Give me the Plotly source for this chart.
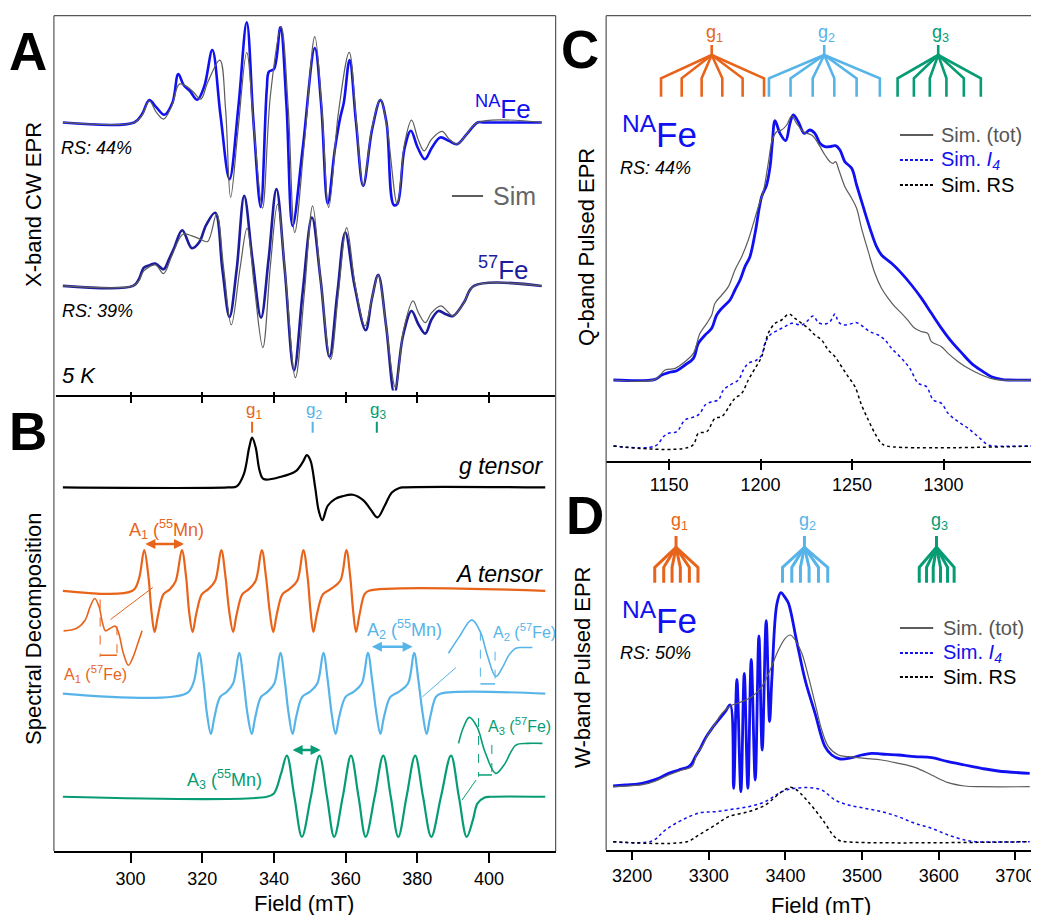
import plotly.graph_objects as go

W, H = 1039, 915          # browser window
OFF = 8                   # default page margin around the plot div
FW, FH = W - OFF, H - OFF # figure size
FONT = "Liberation Sans, Arial, Helvetica, sans-serif"

BLUE = "#1010F0"
NAVY = "#1C1C9E"
GREY = "#5C5C5C"
ORANGE = "#E8641A"
SKY = "#56B4E9"
GREEN = "#079C74"

# ---------------- Panel A : X-band CW EPR (field in mT, intensity a.u.) ----------------
A_NA_EXP_FIELD = [281.1, 301.0, 303.2, 305.2, 307.2, 309.4, 311.7, 313.3, 314.8, 316.5, 318.6, 320.6, 322.8, 325.1,
                  327.6, 330.1, 332.4, 334.3, 336.3, 338.0, 338.6, 340.0, 341.8, 343.5, 345.2, 348.0, 351.4, 353.2,
                  355.0, 357.0, 358.5, 359.5, 361.1, 362.9, 364.9, 367.4, 369.7, 371.4, 373.4, 374.4, 376.4, 378.2,
                  380.1, 382.1, 384.1, 386.4, 388.8, 391.1, 393.8, 396.8, 398.8, 414.7]
A_NA_EXP = [0, 0, 25, 67, 45, 23, 60, 145, 112, 95, 68, 110, 217, 20, -170, 50, 300, 0, -253, 100, 152, 160, 285, 50,
            -310, -80, 223, 50, -243, -80, 15, 60, 187, 0, -190, -20, 67, 0, -247, -245, -80, -25, -75, -110, -75, -45,
            -55, -65, -35, 0, 0, 0]
A_NA_SIM_FIELD = [281.1, 301.0, 303.2, 305.2, 307.2, 309.2, 311.5, 313.6, 315.8, 317.6, 319.6, 321.5, 324.9, 326.5,
                  327.9, 330.0, 332.4, 334.5, 336.8, 339.0, 342.0, 344.0, 345.8, 348.5, 351.4, 353.3, 355.3, 358.0,
                  361.0, 363.0, 364.9, 367.3, 369.7, 371.5, 374.4, 376.5, 378.4, 380.2, 381.9, 384.0, 386.9, 388.9,
                  391.1, 393.8, 396.8, 414.7]
A_NA_SIM = [0, 0, 22, 65, 30, 10, 50, 115, 107, 90, 70, 120, 187, 40, -225, -20, 210, -30, -257, 80, 287, 40, -330,
            -60, 257, 50, -255, 30, 210, 0, -190, -20, 70, -10, -245, -60, 7, -50, -85, -50, -27, -50, -65, -35, 0, 0]
A_FE_EXP_FIELD = [281.1, 300.7, 302.3, 303.7, 305.3, 306.9, 309.2, 310.7, 312.2, 314.4, 317.1, 319.1, 321.1, 323.6,
                  325.6, 327.6, 329.6, 331.7, 334.0, 336.4, 338.5, 340.7, 343.0, 345.6, 348.0, 350.6, 353.0, 355.5,
                  357.7, 359.9, 362.5, 365.6, 367.3, 369.1, 371.3, 373.6, 376.0, 378.4, 380.3, 382.2, 384.0, 385.9,
                  388.0, 390.0, 393.0, 395.8, 414.7]
A_FE_EXP = [0, 0, 20, 55, 62, 67, 50, 80, 115, 167, 113, 130, 183, 219, 50, -93, 50, 270, 80, -95, 80, 290, 50, -253,
            -20, 205, 20, -213, -20, 160, 0, -133, -40, 33, -120, -323, -150, -75, -115, -143, -100, -75, -85, -90, -50,
            0, 0]
A_FE_SIM_FIELD = [281.1, 300.7, 302.3, 303.7, 306.9, 309.2, 311.5, 314.6, 317.1, 319.5, 321.5, 324.0, 326.0, 328.1,
                  330.5, 332.5, 334.5, 336.9, 339.0, 341.0, 343.3, 346.0, 348.5, 350.8, 353.0, 355.8, 358.0, 360.3,
                  362.7, 365.4, 367.3, 369.1, 371.3, 373.9, 376.2, 378.8, 380.3, 382.2, 384.0, 386.6, 388.3, 390.0,
                  393.0, 395.8, 414.7]
A_FE_SIM = [0, 0, 15, 45, 63, 37, 90, 155, 150, 140, 133, 215, 50, -117, 50, 173, 0, -185, 60, 245, 20, -275, -20, 240,
            20, -220, -20, 175, 0, -120, -40, 33, -120, -305, -130, -45, -80, -110, -80, -60, -75, -90, -50, 0, 0]

# ---------------- Panel B : spectral decomposition ----------------
B_G_FIELD = [281.1, 327.1, 329.6, 331.6, 333.1, 333.9, 334.9, 336.0, 337.1, 342.0, 346.0, 348.0, 349.2, 350.2, 351.5,
             352.5, 353.5, 355.0, 357.0, 359.0, 362.0, 364.9, 366.9, 368.9, 370.9, 372.9, 375.0, 375.9, 415.7]
B_G = [0, 0, 3, 40, 120, 149, 120, 50, 25, 32, 48, 75, 97, 80, 0, -70, -98, -55, -35, -27, -22, -38, -65, -90, -55,
       -15, -2, 0, 0]
B_A1_FIELD = [281.1, 300.5, 302.3, 303.8, 305.0, 305.8, 306.7, 307.7, 309.2, 311.0, 312.6, 314.3, 315.5, 316.3, 317.3,
              318.3, 319.9, 321.7, 323.6, 325.3, 326.5, 327.5, 328.6, 329.6, 331.2, 333.0, 334.9, 336.6, 337.8, 338.8,
              339.8, 340.8, 342.4, 344.3, 346.5, 348.2, 349.4, 350.2, 351.0, 352.0, 353.7, 355.8, 358.5, 360.2, 361.3,
              362.1, 362.9, 363.9, 365.3, 366.5, 415.7]
B_A1 = [0, 0, 35, 122, 40, -60, -123, -70, -10, 5, 30, 122, 40, -60, -123, -70, -10, 5, 30, 122, 40, -60, -123, -70,
        -10, 5, 30, 122, 40, -60, -123, -70, -10, 5, 30, 122, 40, -60, -123, -70, -10, 5, 30, 122, 40, -60, -123, -70,
        -10, 0, 0]
B_A2_FIELD = [281.1, 315.5, 317.6, 319.1, 320.3, 321.3, 322.4, 323.4, 325.0, 326.8, 328.6, 330.3, 331.5, 332.6, 333.8,
              334.8, 336.4, 338.2, 340.1, 341.8, 343.0, 344.1, 345.2, 346.2, 347.9, 350.0, 352.1, 353.8, 355.0, 356.1,
              357.2, 358.2, 360.0, 362.2, 364.5, 366.2, 367.4, 368.6, 369.7, 370.7, 372.5, 374.8, 377.4, 379.1, 380.3,
              381.5, 382.6, 383.6, 385.2, 386.6, 415.7]
B_A2 = [0, 0, 35, 122, 40, -60, -121, -70, -10, 5, 30, 122, 40, -60, -121, -70, -10, 5, 30, 122, 40, -60, -121, -70,
        -10, 5, 30, 122, 40, -60, -121, -70, -10, 5, 30, 122, 40, -60, -121, -70, -10, 5, 30, 122, 40, -60, -121, -70,
        -10, 0, 0]
B_A3_FIELD = [281.1, 338.0, 340.0, 342.0, 343.6, 345.7, 347.8, 350.3, 352.7, 354.8, 356.8, 359.2, 361.5, 363.6, 365.6,
              368.1, 370.5, 372.6, 374.7, 377.0, 379.4, 381.6, 383.9, 386.6, 389.4, 391.6, 393.8, 395.5, 396.8, 398.8,
              400.5, 415.7]
B_A3 = [0, 0, 10, 70, 123, 0, -120, 0, 123, 0, -120, 0, 123, 0, -120, 0, 123, 0, -120, 0, 123, 0, -120, 0, 123, 0,
        -120, -70, -20, -2, 0, 0]
# zoomed insets of the 57Fe splitting
B_A1_INSET_FIELD = [281.3, 284.8, 287.3, 288.7, 290.0, 291.2, 292.2, 293.0, 294.2, 295.7, 296.7, 298.0, 299.4, 300.7,
                    302.0, 303.2]
B_A1_INSET = [-120, -113, -88, -48, -23, -48, -98, -120, -113, -106, -128, -188, -223, -198, -158, -120]
B_A2_INSET_FIELD = [388.7, 391.7, 395.2, 397.6, 399.5, 401.9, 403.7, 405.6, 407.5, 409.8, 412.1]
B_A2_INSET = [121, 170, 221, 185, 116, 51, 77, 116, 136, 138, 138]
B_A3_INSET_FIELD = [391.5, 392.8, 394.5, 396.7, 398.9, 401.9, 404.2, 407.5, 410.7, 414.9]
B_A3_INSET = [160, 206, 238, 209, 134, 70, 95, 155, 160, 160]
B_G_POS = [333.9, 350.8, 368.7]
B_MN_SPLIT = [(303.7, 314.9), (366.9, 378.7), (344.8, 353.0)]
B_FE_SPLIT = [(291.5, 296.2), (397.6, 401.7), (397.1, 400.8)]

# ---------------- Panel C : Q-band pulsed EPR ----------------
C_EXP_FIELD = [1119.6, 1142.4, 1146.0, 1149.6, 1154.2, 1158.7, 1163.3, 1166.0, 1169.7, 1173.3, 1176.0, 1178.8, 1183.3,
               1186.0, 1188.8, 1191.5, 1194.2, 1197.0, 1200.6, 1203.3, 1205.2, 1206.4, 1207.9, 1210.6, 1213.7, 1216.1,
               1217.9, 1220.6, 1223.9, 1227.0, 1229.7, 1232.5, 1235.2, 1237.9, 1241.0, 1243.4, 1246.1, 1249.8, 1252.5,
               1256.1, 1259.8, 1263.4, 1266.1, 1271.6, 1277.1, 1282.5, 1288.0, 1293.4, 1298.9, 1304.4, 1309.8, 1315.3,
               1320.8, 1326.2, 1331.7, 1335.3, 1349.0]
C_EXP = [0, 2, 15, 22, 28, 45, 65, 110, 135, 155, 195, 215, 240, 270, 300, 340, 370, 440, 550, 585, 640, 710, 778, 740,
         718, 770, 795, 775, 740, 750, 740, 710, 700, 700, 703, 690, 655, 635, 585, 520, 455, 400, 375, 350, 320, 285,
         245, 200, 155, 115, 82, 50, 28, 10, 2, 0, 0]
C_SIM_FIELD = [1119.6, 1142.4, 1147.8, 1153.3, 1158.7, 1163.3, 1166.9, 1170.6, 1173.3, 1175.1, 1178.8, 1182.4, 1186.0,
               1189.7, 1193.3, 1196.1, 1198.8, 1201.5, 1204.2, 1206.4, 1208.8, 1211.5, 1214.3, 1217.0, 1219.7, 1223.4,
               1227.9, 1229.7, 1232.5, 1235.2, 1237.9, 1239.7, 1241.0, 1242.8, 1246.1, 1249.8, 1252.5, 1255.2, 1258.9,
               1262.5, 1266.1, 1269.8, 1273.4, 1277.1, 1280.7, 1284.3, 1288.0, 1291.3, 1293.4, 1298.9, 1302.5, 1308.0,
               1313.5, 1320.8, 1328.0, 1349.0]
C_SIM = [0, 2, 30, 35, 55, 80, 140, 170, 195, 230, 255, 280, 330, 370, 420, 470, 520, 565, 650, 720, 745, 750, 765, 792,
         770, 745, 735, 725, 700, 675, 655, 650, 655, 630, 580, 545, 515, 455, 385, 320, 275, 245, 220, 200, 178, 155,
         145, 140, 115, 100, 80, 55, 35, 15, 2, 0]
C_I4_FIELD = [1119.6, 1142.4, 1146.9, 1149.6, 1154.2, 1158.7, 1164.2, 1166.9, 1169.7, 1173.3, 1176.9, 1179.7, 1183.3,
              1187.9, 1190.6, 1193.3, 1197.9, 1200.6, 1202.4, 1205.2, 1209.7, 1213.3, 1217.0, 1222.5, 1225.2, 1228.8,
              1231.6, 1235.2, 1237.9, 1240.7, 1242.5, 1245.2, 1248.8, 1252.5, 1256.1, 1259.8, 1264.3, 1268.0, 1271.6,
              1277.1, 1281.6, 1286.2, 1290.7, 1294.4, 1298.9, 1302.5, 1308.0, 1313.5, 1318.9, 1324.4, 1328.0, 1349.0]
C_I4 = [0, 0, 28, 38, 43, 78, 88, 98, 123, 133, 138, 168, 183, 198, 228, 248, 258, 273, 308, 333, 348, 358, 368, 363,
        373, 390, 370, 366, 373, 396, 373, 363, 366, 370, 358, 343, 333, 318, 293, 263, 233, 188, 178, 138, 128, 98, 73,
        53, 28, 3, 0, 0]
C_RS_FIELD = [1119.6, 1162.4, 1166.0, 1170.6, 1175.1, 1178.8, 1183.3, 1186.0, 1189.7, 1193.3, 1197.0, 1200.6, 1204.2,
              1207.9, 1211.5, 1215.5, 1218.8, 1222.5, 1226.1, 1229.7, 1233.4, 1237.0, 1240.7, 1244.3, 1247.9, 1251.6,
              1255.2, 1258.9, 1262.5, 1266.1, 1268.9, 1349.0]
C_RS = [0, 0, 38, 43, 83, 88, 123, 143, 158, 198, 233, 268, 338, 368, 378, 396, 383, 368, 353, 333, 318, 288, 268, 238,
        208, 178, 123, 78, 38, 8, 0, 0]
C_STICK_CENTER = [1173.3, 1234.8, 1297.1]
C_STICK_LEGS = [[1145.6, 1156.9, 1167.8, 1179.1, 1190.2, 1201.9],
                [1204.6, 1216.4, 1228.5, 1240.3, 1252.5, 1265.2],
                [1274.9, 1283.8, 1292.5, 1301.6, 1311.1, 1320.4]]

# ---------------- Panel D : W-band pulsed EPR ----------------
D_EXP_FIELD = [3175.3, 3191.3, 3208.7, 3221.7, 3234.7, 3247.7, 3260.8, 3273.8, 3278.1, 3282.5, 3289.0, 3295.5, 3304.2,
               3312.8, 3321.5, 3328.0, 3332.4, 3336.7, 3341.9, 3346.3, 3351.0, 3355.4, 3360.6, 3365.4, 3369.7, 3374.9,
               3379.3, 3382.5, 3388.8, 3394.0, 3399.7, 3404.0, 3414.8, 3425.7, 3438.7, 3451.7, 3460.4, 3471.3, 3486.5,
               3499.5, 3512.5, 3525.5, 3547.2, 3568.9, 3590.6, 3612.3, 3634.0, 3655.7, 3677.4, 3718.7]
D_EXP = [0, 3, 6, 13, 23, 38, 48, 58, 68, 88, 113, 143, 173, 198, 223, 243, -7, 320, -17, 338, -7, 380, 18, 450, 108,
         496, 193, 330, 545, 580, 565, 548, 433, 318, 218, 118, 93, 81, 85, 93, 98, 96, 93, 88, 85, 73, 63, 53, 45, 38]
D_SIM_FIELD = [3175.3, 3221.7, 3247.7, 3265.1, 3278.1, 3284.6, 3291.1, 3299.8, 3308.5, 3317.2, 3328.0, 3343.2, 3356.2,
               3369.2, 3380.0, 3390.9, 3399.7, 3406.2, 3412.7, 3421.4, 3430.0, 3438.7, 3447.4, 3456.1, 3469.1, 3482.1,
               3503.8, 3525.5, 3547.2, 3568.9, 3590.6, 3612.3, 3634.0, 3655.7, 3718.7]
D_SIM = [-2, 8, 33, 48, 58, 98, 118, 158, 188, 218, 240, 253, 268, 298, 348, 408, 443, 453, 438, 398, 328, 248, 168,
         118, 93, 88, 83, 78, 68, 56, 33, 10, 0, -2, -2]
D_I4_FIELD = [3175.3, 3226.0, 3243.4, 3265.1, 3289.0, 3308.5, 3330.2, 3351.9, 3373.6, 3395.3, 3412.7, 3430.0, 3447.4,
              3464.8, 3482.1, 3503.8, 3525.5, 3547.2, 3568.9, 3590.6, 3612.3, 3634.0, 3647.0, 3718.7]
D_I4 = [0, 2, 35, 65, 87, 90, 97, 105, 120, 150, 160, 162, 155, 125, 110, 100, 90, 75, 55, 40, 20, 5, 0, 0]
D_RS_FIELD = [3175.3, 3271.6, 3286.8, 3308.5, 3325.9, 3351.9, 3373.6, 3395.3, 3406.2, 3414.8, 3425.7, 3438.7, 3451.7,
              3460.4, 3469.1, 3477.8, 3718.7]
D_RS = [0, 0, 20, 50, 75, 90, 110, 150, 163, 155, 130, 95, 55, 25, 5, 0, 0]
D_STICK_CENTER = [3257.3, 3424.8, 3597.1]
D_STICK_LEGS = [[3229.5, 3241.2, 3252.1, 3262.9, 3274.7, 3285.9],
                [3396.2, 3408.3, 3419.6, 3430.9, 3443.1, 3455.2],
                [3574.6, 3584.1, 3592.8, 3602.3, 3611.5, 3620.1]]

G_COLORS = [ORANGE, SKY, GREEN]
G_NAMES = ["g<sub>1</sub>", "g<sub>2</sub>", "g<sub>3</sub>"]


def PX(x):
    return (x - OFF) / FW


def PY(y):
    return 1 - (y - OFF) / FH


def shift(vals, base):
    return [None if v is None else v - base for v in vals]


fig = go.Figure()


def line(xs, ys, xa, ya, color, width, dash=None, shape="spline"):
    fig.add_trace(go.Scatter(x=xs, y=ys, xaxis=xa, yaxis=ya, mode="lines",
                             line=dict(color=color, width=width, dash=dash, shape=shape, smoothing=1.0),
                             hoverinfo="skip", showlegend=False))


# ---- Panel A traces (baselines in axis units)
A_NA_BASE, A_FE_BASE = 365, 855
line(A_NA_EXP_FIELD, shift(A_NA_EXP, A_NA_BASE), "x2", "y2", BLUE, 2.6)
line(A_NA_SIM_FIELD, shift(A_NA_SIM, A_NA_BASE), "x2", "y2", GREY, 1.2)
line(A_FE_EXP_FIELD, shift(A_FE_EXP, A_FE_BASE), "x2", "y2", NAVY, 2.6)
line(A_FE_SIM_FIELD, shift(A_FE_SIM, A_FE_BASE), "x2", "y2", GREY, 1.2)

# ---- Panel B traces
B_G_BASE, B_A1_BASE, B_A2_BASE, B_A3_BASE = 292, 602, 910, 1219.3
line(B_G_FIELD, shift(B_G, B_G_BASE), "x", "y", "black", 2.2)
line(B_A1_FIELD, shift(B_A1, B_A1_BASE), "x", "y", ORANGE, 2.2)
line(B_A2_FIELD, shift(B_A2, B_A2_BASE), "x", "y", SKY, 2.2)
line(B_A3_FIELD, shift(B_A3, B_A3_BASE), "x", "y", GREEN, 2.2)
line(B_A1_INSET_FIELD, shift(B_A1_INSET, B_A1_BASE), "x", "y", ORANGE, 1.6)
line(B_A2_INSET_FIELD, shift(B_A2_INSET, B_A2_BASE), "x", "y", SKY, 1.6)
line(B_A3_INSET_FIELD, shift(B_A3_INSET, B_A3_BASE), "x", "y", GREEN, 1.6)

# connectors from insets to spectra
line([294.4, 306.2], [-688, -592], "x", "y", ORANGE, 1, shape="linear")
line([381.4, 390.8], [-920, -832], "x", "y", SKY, 1, shape="linear")
line([392.5, 396.4], [-1229, -1169], "x", "y", GREEN, 1, shape="linear")

# 57Fe splitting markers (dashed verticals + bar)
FE_MARK_Y = [((628, 800), (708, 800), 795), ((724.5, 884.3), (784.5, 884.3), 881),
             ((983.2, 1159.2), (1064.1, 1159.2), 1154)]
for (x1, x2), (l1, r1, bar), c in zip(B_FE_SPLIT, FE_MARK_Y, G_COLORS):
    line([x1, x1, None, x2, x2], [-l1[0], -l1[1], None, -r1[0], -r1[1]], "x", "y", c, 1, dash="dash", shape="linear")
    line([x1, x2], [-bar, -bar], "x", "y", c, 1.5, shape="linear")

# g position ticks
for gx, c in zip(B_G_POS, G_COLORS):
    line([gx, gx], [-95, -128], "x", "y", c, 2, shape="linear")

# ---- Panel C traces
C_EXP_BASE, C_SIM_BASE = 1140, 1338
line(C_I4_FIELD, shift(C_I4, C_SIM_BASE), "x3", "y3", BLUE, 1.5, dash="dot")
line(C_RS_FIELD, shift(C_RS, C_SIM_BASE), "x3", "y3", "black", 1.5, dash="dot")
line(C_EXP_FIELD, shift(C_EXP, C_EXP_BASE), "x3", "y3", BLUE, 2.8)
line(C_SIM_FIELD, shift(C_SIM, C_EXP_BASE), "x3", "y3", GREY, 1.2)

# ---- Panel D traces
D_EXP_BASE, D_SIM_BASE = 978, 1145
line(D_I4_FIELD, shift(D_I4, D_SIM_BASE), "x4", "y4", BLUE, 1.5, dash="dot")
line(D_RS_FIELD, shift(D_RS, D_SIM_BASE), "x4", "y4", "black", 1.5, dash="dot")
line(D_EXP_FIELD, shift(D_EXP, D_EXP_BASE), "x4", "y4", BLUE, 2.8)
line(D_SIM_FIELD, shift(D_SIM, D_EXP_BASE), "x4", "y4", GREY, 1.2)


# ---- stick diagrams
def sticks(centers, legs, xa, ya, levels, width):
    top, join, legtop, legbot = levels
    for s, ls, c in zip(centers, legs, G_COLORS):
        xs, ys = [s, s, None], [-top, -join, None]
        for l in ls:
            xs += [s, l, l, None]
            ys += [-join, -legtop, -legbot, None]
        line(xs, ys, xa, ya, c, width, shape="linear")


sticks(C_STICK_CENTER, C_STICK_LEGS, "x3", "y3", (135, 165, 235, 290), 2.6)
sticks(D_STICK_CENTER, D_STICK_LEGS, "x4", "y4", (228, 262, 322, 368), 3.0)

# ---------------- annotations ----------------
ann = []


def ptext(text, x, y, size, color="black", xanchor="center", angle=0):
    ann.append(dict(text=text, x=PX(x), y=PY(y), xref="paper", yref="paper", showarrow=False,
                    xanchor=xanchor, yanchor="middle", textangle=angle,
                    font=dict(family=FONT, size=size, color=color)))


def dtext(text, x, y, size, color="black", xanchor="center", xr="x", yr="y"):
    ann.append(dict(text=text, x=x, y=y, xref=xr, yref=yr, showarrow=False,
                    xanchor=xanchor, yanchor="middle",
                    font=dict(family=FONT, size=size, color=color)))


def darrow(x1, x2, y, color, width, size):
    ann.append(dict(x=x2, y=y, ax=x1, ay=y, xref="x", yref="y", axref="x", ayref="y", text="",
                    showarrow=True, arrowhead=2, arrowside="end+start", arrowsize=size,
                    arrowwidth=width, arrowcolor=color))


# panel letters
ptext("<b>A</b>", 28.5, 51, 53)
ptext("<b>B</b>", 28.5, 431, 53)
ptext("<b>C</b>", 581, 49, 53)
ptext("<b>D</b>", 586, 516, 53)

# Panel A texts
ptext("<sup>NA</sup>Fe", 534, 107, 26, BLUE, "right")
ptext("<sup>57</sup>Fe", 532, 268, 26, NAVY, "right")
ptext("Sim", 492, 196, 25, "#666666", "left")
ptext("<i>RS: 44%</i>", 59, 148, 18, "black", "left")
ptext("<i>RS: 39%</i>", 60, 311, 18, "black", "left")
ptext("<i>5 K</i>", 60, 376, 22, "black", "left")
ptext("X-band CW EPR", 33, 204, 22, "black", "center", -90)

# Panel B texts
for gx, c, g in zip(B_G_POS, G_COLORS, G_NAMES):
    dtext(g, gx + 0.4, -62, 17, c)
dtext("<i>g tensor</i>", 415.7, -228, 23, "black", "right")
dtext("<i>A tensor</i>", 415.7, -553, 23, "black", "right")
dtext("A<sub>1</sub> (<sup>55</sup>Mn)", 309.9, -418, 18, ORANGE)
dtext("A<sub>1</sub> (<sup>57</sup>Fe)", 290.2, -850, 16, ORANGE)
dtext("A<sub>2</sub> (<sup>55</sup>Mn)", 376.4, -718, 18, SKY)
dtext("A<sub>2</sub> (<sup>57</sup>Fe)", 400.6, -725, 16, SKY, "left")
dtext("A<sub>3</sub> (<sup>55</sup>Mn)", 326.1, -1167, 18, GREEN)
dtext("A<sub>3</sub> (<sup>57</sup>Fe)", 399.3, -1007, 16, GREEN, "left")
for (x1, x2), yy, c in zip(B_MN_SPLIT, [-462, -770, -1079], G_COLORS):
    darrow(x1, x2, yy, c, 2.5, 0.8)
ptext("Spectral Decomposition", 33, 629, 22, "black", "center", -90)
ptext("Field (mT)", 305, 903, 22)

# Panel C texts
for s, c, g in zip(C_STICK_CENTER, G_COLORS, G_NAMES):
    dtext(g, s + 1.3, -100, 18, c, xr="x3", yr="y3")
ptext("<sup>NA</sup>Fe", 621, 132, 35, BLUE, "left")
ptext("<i>RS: 44%</i>", 619, 168, 18, "black", "left")
ptext("Q-band Pulsed EPR", 587, 247, 22, "black", "center", -90)
ptext("Sim. (tot)", 941, 135, 20, "#555555", "left")
ptext("Sim. <i>I</i><sub><i>4</i></sub>", 941, 160, 20, BLUE, "left")
ptext("Sim. RS", 941, 185, 20, "black", "left")

# Panel D texts
for s, c, g in zip(D_STICK_CENTER, G_COLORS, G_NAMES):
    dtext(g, s + 4, -185, 18, c, xr="x4", yr="y4")
ptext("<sup>NA</sup>Fe", 621, 618, 35, BLUE, "left")
ptext("<i>RS: 50%</i>", 619, 653, 18, "black", "left")
ptext("W-band Pulsed EPR", 583, 667, 22, "black", "center", -90)
ptext("Sim. (tot)", 943, 628, 20, "#555555", "left")
ptext("Sim. <i>I</i><sub><i>4</i></sub>", 943, 653, 20, BLUE, "left")
ptext("Sim. RS", 943, 677, 20, "black", "left")
ptext("Field (mT)", 823, 905, 22)

# ---------------- shapes: frames and legend keys ----------------
shapes = []


def pline(x0, y0, x1, y1, color, width, dash=None):
    shapes.append(dict(type="line", xref="paper", yref="paper", x0=PX(x0), y0=PY(y0), x1=PX(x1), y1=PY(y1),
                       line=dict(color=color, width=width, dash=dash)))


FRAME = "#555555"
pline(54, 15.7, 556.7, 15.7, FRAME, 1.2)
pline(54, 15.7, 54, 851, FRAME, 1.2)
pline(556.7, 15.7, 556.7, 851, FRAME, 1.2)
pline(607.3, 15.7, 1039, 15.7, FRAME, 1.2)
pline(607.3, 15.7, 607.3, 850, FRAME, 1.2)

pline(56, 396, 556, 396, "black", 2)
pline(452.8, 196, 484, 196, GREY, 2)
for yy, c, d in [(135, GREY, None), (160, BLUE, "3px,2px"), (185, "black", "3px,2px")]:
    pline(901.7, yy, 935, yy, c, 2, d)
for yy, c, d in [(628, GREY, None), (653, BLUE, "3px,2px"), (677, "black", "3px,2px")]:
    pline(901.7, yy, 935, yy, c, 2, d)

common = dict(showgrid=False, zeroline=False)
fig.update_layout(
    width=FW, height=FH, margin=dict(l=0, r=0, t=0, b=0),
    paper_bgcolor="white", plot_bgcolor="rgba(0,0,0,0)",
    font=dict(family=FONT, color="black"),
    showlegend=False,
    xaxis=dict(domain=[PX(54), PX(556.7)], anchor="y", range=[278.6, 418.6],
               tickvals=[300, 320, 340, 360, 380, 400], ticks="outside", ticklen=10, tickwidth=2,
               tickcolor="black", showline=True, linecolor="black", linewidth=2,
               tickfont=dict(size=18, family=FONT), **common),
    yaxis=dict(domain=[PY(851), PY(396)], range=[-1381.9, -18.0], visible=False, **common),
    xaxis2=dict(domain=[PX(54), PX(556.7)], anchor="y2", range=[278.6, 418.6], matches="x",
                tickvals=[300, 320, 340, 360, 380, 400], ticks="outside", ticklen=11, tickwidth=2,
                tickcolor="black", showticklabels=False, showline=False, **common),
    yaxis2=dict(domain=[PY(390.5), PY(15.7)], range=[-1168.5, -45], visible=False, **common),
    xaxis3=dict(domain=[PX(607.3), 1.0], anchor="y3", range=[1115.6, 1351.1],
                tickvals=[1150, 1200, 1250, 1300], ticks="outside", ticklen=11, tickwidth=2,
                tickcolor="black", showline=False, tickfont=dict(size=18, family=FONT), **common),
    yaxis3=dict(domain=[PY(457.8), PY(15.7)], range=[-1373.4, -47.1], visible=False, **common),
    xaxis4=dict(domain=[PX(607.3), PX(1035)], anchor="y4", range=[3166.1, 3723.0],
                tickvals=[3200, 3300, 3400, 3500, 3600, 3700], ticks="outside", ticklen=8, tickwidth=2,
                tickcolor="black", showline=True, linecolor="black", linewidth=2, mirror=True,
                tickfont=dict(size=18, family=FONT), **common),
    yaxis4=dict(domain=[PY(850), PY(463.3)], range=[-1170, -9.9], visible=False, **common),
    annotations=ann,
    shapes=shapes,
)

fig.write_html("out.html")
